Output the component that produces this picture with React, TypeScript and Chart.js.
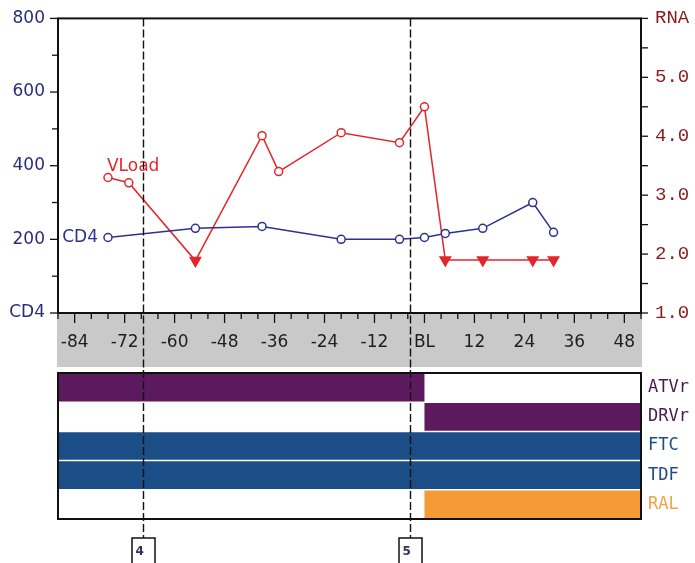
import React, { useEffect, useRef } from 'react';
import { Chart, registerables } from 'chart.js';

Chart.register(...registerables);

// ---- data ----
const cd4Months = [-76, -55, -39, -20, -6, 0, 5, 14, 26, 31];
const cd4Values = [205, 230, 235, 200, 200, 205, 216, 230, 300, 219];

const vlMonths = [-76, -71, -55, -39, -35, -20, -6, 0, 5, 14, 26, 31];
const vlValues = [3.3, 3.21, 1.89, 4.01, 3.4, 4.06, 3.89, 4.5, 1.9, 1.9, 1.9, 1.9];
const vlBelowLimit = [false, false, true, false, false, false, false, false, true, true, true, true];

const drugs = ['ATVr', 'DRVr', 'FTC', 'TDF', 'RAL'];
const drugStart = [-88, 0, -88, -88, 0];
const drugEnd = [0, 52, 52, 52, 52];
const drugColors = ['#5c1a5e', '#5c1a5e', '#1b4d86', '#1b4d86', '#f49b38'];
const drugLabelColors = ['#4a1a4e', '#4a1a4e', '#1b4d86', '#1b4d86', '#f2a24a'];

const eventLabels = ['4', '5'];
const eventMonths = [-67.5, -3.5];

const xMin = -88;
const xMax = 52;
const xStep = 4;
const xLabelStep = 12;
const cd4Min = 0;
const cd4Max = 800;
const rnaMin = 1;
const rnaMax = 6;

const CD4_COLOR = '#2e318f';
const VL_COLOR = '#e3262b';

const PLOT_LEFT = 58;
const RIGHT_W = 54;
const TOP_H = 370;
const BOT_H = 193;

const topPlugin = {
  id: 'topDecor',
  beforeDraw(chart: any) {
    const { ctx, chartArea } = chart;
    ctx.save();
    ctx.fillStyle = '#c9c9c9';
    ctx.fillRect(chartArea.left - 1, chartArea.bottom, chartArea.right - chartArea.left + 2, 54);
    ctx.restore();
  },
  afterDraw(chart: any) {
    const { ctx, chartArea, scales } = chart;
    const x = scales.x, yL = scales.yL, yR = scales.yR;
    ctx.save();
    ctx.strokeStyle = '#111';
    ctx.lineWidth = 1.3;
    x.ticks.forEach((t: any) => {
      const px = x.getPixelForValue(t.value);
      const len = Math.abs(t.value % xLabelStep) === 0 ? 10 : 6;
      ctx.beginPath();
      ctx.moveTo(px, chartArea.bottom);
      ctx.lineTo(px, chartArea.bottom + len);
      ctx.stroke();
    });
    yL.ticks.forEach((t: any) => {
      const py = yL.getPixelForValue(t.value);
      const len = t.value % 200 === 0 ? 8 : 6;
      ctx.beginPath();
      ctx.moveTo(chartArea.left, py);
      ctx.lineTo(chartArea.left - len, py);
      ctx.stroke();
    });
    yR.ticks.forEach((t: any) => {
      const py = yR.getPixelForValue(t.value);
      ctx.beginPath();
      ctx.moveTo(chartArea.right, py);
      ctx.lineTo(chartArea.right + 7, py);
      ctx.stroke();
    });
    ctx.lineWidth = 2;
    ctx.strokeStyle = '#111';
    ctx.strokeRect(chartArea.left, chartArea.top, chartArea.right - chartArea.left, chartArea.bottom - chartArea.top);
    const vlMeta = chart.getDatasetMeta(1).data[0];
    const cdMeta = chart.getDatasetMeta(0).data[0];
    ctx.font = '17px "DejaVu Sans"';
    ctx.fillStyle = VL_COLOR;
    ctx.textAlign = 'left';
    ctx.textBaseline = 'alphabetic';
    ctx.fillText('VLoad', vlMeta.x - 1, vlMeta.y - 6);
    ctx.fillStyle = CD4_COLOR;
    ctx.textAlign = 'right';
    ctx.textBaseline = 'middle';
    ctx.fillText('CD4', cdMeta.x - 10, cdMeta.y);
    ctx.setLineDash([8, 3]);
    ctx.lineWidth = 1.4;
    ctx.strokeStyle = '#111';
    eventMonths.forEach((m) => {
      const px = Math.round(x.getPixelForValue(m)) + 0.5;
      ctx.beginPath();
      ctx.moveTo(px, chartArea.top);
      ctx.lineTo(px, chart.height);
      ctx.stroke();
    });
    ctx.restore();
  },
};

const bottomPlugin = {
  id: 'bottomDecor',
  afterDraw(chart: any) {
    const { ctx, chartArea, scales } = chart;
    const x = scales.x;
    ctx.save();
    ctx.lineWidth = 2;
    ctx.strokeStyle = '#111';
    ctx.strokeRect(chartArea.left, chartArea.top, chartArea.right - chartArea.left, chartArea.bottom - chartArea.top);
    const boxTop = 168;
    eventMonths.forEach((m, i) => {
      const px = Math.round(x.getPixelForValue(m)) + 0.5;
      ctx.setLineDash([8, 3]);
      ctx.lineWidth = 1.4;
      ctx.beginPath();
      ctx.moveTo(px, 0);
      ctx.lineTo(px, boxTop);
      ctx.stroke();
      ctx.setLineDash([]);
      ctx.fillStyle = '#fff';
      ctx.fillRect(px - 11.5, boxTop, 23, 40);
      ctx.lineWidth = 1.5;
      ctx.strokeRect(px - 11.5, boxTop, 23, 40);
      ctx.fillStyle = '#3e2a5c';
      ctx.font = 'bold 12px "DejaVu Sans"';
      ctx.textAlign = 'left';
      ctx.textBaseline = 'middle';
      ctx.fillText(eventLabels[i], px - 8, boxTop + 14);
    });
    ctx.restore();
  },
};

export default function App() {
  const topRef = useRef<HTMLCanvasElement>(null);
  const botRef = useRef<HTMLCanvasElement>(null);

  useEffect(() => {
    document.body.style.margin = '0';
    const topChart = new Chart(topRef.current as HTMLCanvasElement, {
      type: 'line',
      data: {
        datasets: [
          {
            label: 'CD4',
            data: cd4Months.map((m, i) => ({ x: m, y: cd4Values[i] })),
            yAxisID: 'yL',
            borderColor: CD4_COLOR,
            borderWidth: 1.5,
            pointStyle: 'circle',
            pointRadius: 4,
            pointBorderWidth: 1.5,
            pointBorderColor: CD4_COLOR,
            pointBackgroundColor: '#ffffff',
            tension: 0,
          },
          {
            label: 'VLoad',
            data: vlMonths.map((m, i) => ({ x: m, y: vlValues[i] })),
            yAxisID: 'yR',
            borderColor: VL_COLOR,
            borderWidth: 1.5,
            pointStyle: vlBelowLimit.map((b) => (b ? 'triangle' : 'circle')) as any,
            pointRotation: vlBelowLimit.map((b) => (b ? 180 : 0)),
            pointRadius: vlBelowLimit.map((b) => (b ? 6 : 4)),
            pointBorderWidth: 1.5,
            pointBorderColor: VL_COLOR,
            pointBackgroundColor: vlBelowLimit.map((b) => (b ? VL_COLOR : '#ffffff')),
            tension: 0,
          },
        ],
      },
      options: {
        responsive: false,
        animation: false,
        layout: { padding: { top: 17, left: 0, right: 0, bottom: 0 } },
        plugins: { legend: { display: false }, tooltip: { enabled: false } },
        scales: {
          x: {
            type: 'linear',
            position: 'bottom',
            min: xMin,
            max: xMax,
            afterFit: (s: any) => {
              s.height = TOP_H - 313;
            },
            ticks: {
              stepSize: xStep,
              autoSkip: false,
              maxRotation: 0,
              padding: 9,
              color: '#1e1e1e',
              font: { family: 'DejaVu Sans', size: 17 },
              callback: (v: any) => (Math.abs(v % xLabelStep) === 0 ? (v === 0 ? 'BL' : String(v)) : ''),
            },
            grid: { display: false, drawTicks: true, tickLength: 10 },
            border: { display: false },
          },
          yL: {
            type: 'linear',
            position: 'left',
            min: cd4Min,
            max: cd4Max,
            afterFit: (s: any) => {
              s.width = PLOT_LEFT;
            },
            ticks: {
              stepSize: 100,
              autoSkip: false,
              padding: 5,
              color: '#2b2d7c',
              font: { family: 'DejaVu Sans', size: 17 },
              callback: (v: any) => (v === 0 ? 'CD4' : v % 200 === 0 ? String(v) : ''),
            },
            grid: { display: false, drawTicks: true, tickLength: 8 },
            border: { display: false },
          },
          yR: {
            type: 'linear',
            position: 'right',
            min: rnaMin,
            max: rnaMax,
            afterFit: (s: any) => {
              s.width = RIGHT_W;
            },
            ticks: {
              stepSize: 0.5,
              autoSkip: false,
              padding: 7,
              color: '#8e1b1b',
              font: { family: 'Liberation Mono', size: 19 },
              callback: (v: any) => (v === 6 ? 'RNA' : Number.isInteger(v) ? Number(v).toFixed(1) : ''),
            },
            grid: { display: false, drawTicks: true, tickLength: 7 },
            border: { display: false },
          },
        },
      } as any,
      plugins: [topPlugin],
    });

    const botChart = new Chart(botRef.current as HTMLCanvasElement, {
      type: 'bar',
      data: {
        labels: drugs,
        datasets: [
          {
            data: drugs.map((_, i) => [drugStart[i], drugEnd[i]]) as any,
            backgroundColor: drugColors,
            borderWidth: 0,
            barPercentage: 1,
            categoryPercentage: 0.95,
          },
        ],
      },
      options: {
        indexAxis: 'y',
        responsive: false,
        animation: false,
        layout: { padding: { top: 3, left: PLOT_LEFT, right: 0, bottom: 44 } },
        plugins: { legend: { display: false }, tooltip: { enabled: false } },
        scales: {
          x: { type: 'linear', min: xMin, max: xMax, display: false },
          y: {
            position: 'right',
            afterFit: (s: any) => {
              s.width = RIGHT_W;
              s.paddingTop = 0;
              s.paddingBottom = 0;
            },
            ticks: {
              padding: 7,
              color: (c: any) => drugLabelColors[c.index] || '#333',
              font: { family: 'DejaVu Sans Mono', size: 17 },
            },
            grid: { display: false, drawTicks: false },
            border: { display: false },
          },
        },
      } as any,
      plugins: [bottomPlugin],
    });

    return () => {
      topChart.destroy();
      botChart.destroy();
    };
  }, []);

  return (
    <div style={{ position: 'relative', width: 695, height: 563, background: '#fff', overflow: 'hidden' }}>
      <canvas ref={topRef} width={695} height={TOP_H} style={{ position: 'absolute', left: 0, top: 0 }} />
      <canvas ref={botRef} width={695} height={BOT_H} style={{ position: 'absolute', left: 0, top: TOP_H }} />
    </div>
  );
}
